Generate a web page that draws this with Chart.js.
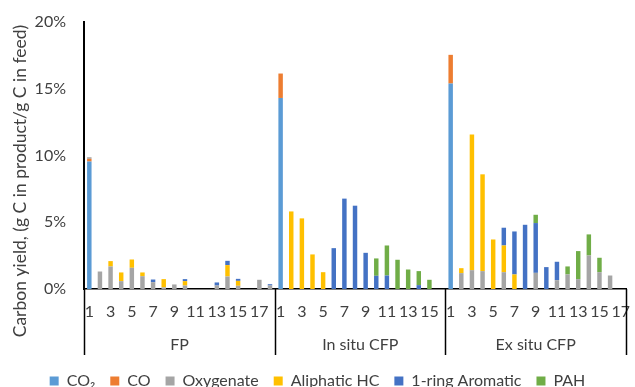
<!DOCTYPE html>
<html>
<head>
<meta charset="utf-8">
<script src="https://cdn.jsdelivr.net/npm/chart.js@4.4.1/dist/chart.umd.min.js"></script>
<style>
	html, body { margin: 0; padding: 0; background: #fff; }
	#wrapper { width: 635px; height: 387px; position: relative; }
</style>
</head>
<body>
<div id="wrapper"><canvas id="chart"></canvas></div>
<script>
"use strict";

// categories (run numbers) for each process group
const groups = ["FP", "In situ CFP", "Ex situ CFP"];
const fpRuns = ["1","2","3","4","5","6","7","8","9","10","11","12","13","14","15","16","17","18"];
const inSituRuns = ["1","2","3","4","5","6","7","8","9","10","11","12","13","14","15","16"];
const exSituRuns = ["1","2","3","4","5","6","7","8","9","10","11","12","13","14","15","16","17"];

const yTicks = [0, 5, 10, 15, 20];

// carbon yield, % (FP | In situ CFP | Ex situ CFP)
const co2 = [
	9.55,0,0,0,0,0,0,0,0,0,0,0,0,0,0,0,0,0,
	14.31,0,0,0,0,0,0,0,0,0,0,0,0,0,0,0,
	15.39,0,0,0,0,0,0,0,0,0,0,0,0,0,0,0,0
];
const co = [
	0.2,0,0,0,0,0,0,0,0,0,0,0,0,0,0,0,0,0,
	1.83,0,0,0,0,0,0,0,0,0,0,0,0,0,0,0,
	2.15,0,0,0,0,0,0,0,0,0,0,0,0,0,0,0,0
];
const oxygenate = [
	0.12,1.31,1.69,0.59,1.59,0.96,0.51,0.12,0.34,0.26,0,0,0.26,0.94,0.24,0,0.69,0.26,
	0,0,0,0,0,0,0,0,0,0,0,0,0,0,0,0,
	0,1.19,1.41,1.34,0,1.26,0,0,1.21,0,0.66,1.09,0.74,2.51,1.26,1.01,0
];
const aliphatic = [
	0,0,0.4,0.65,0.62,0.28,0,0.62,0,0.33,0,0,0,0.85,0.37,0,0,0,
	0,5.81,5.29,2.59,1.26,0,0,0,0,0,0,0,0,0,0,0,
	0,0.37,10.16,7.25,3.71,2.0,1.09,0,0,0,0,0,0,0,0,0,0
];
const aromatic = [
	0,0,0,0,0,0,0.2,0,0,0.15,0,0,0.23,0.32,0.15,0,0,0.1,
	0,0,0,0,0,3.06,6.77,6.24,2.71,0.99,1.01,0,0,0.29,0,0,
	0,0,0,0,0,1.33,3.22,4.81,3.73,1.64,1.38,0,0,0,0,0,0
];
const pah = [
	0,0,0,0,0,0,0,0,0,0,0,0,0,0,0,0,0,0,
	0,0,0,0,0,0,0,0,0,1.3,2.25,2.19,1.46,1.05,0.69,0,
	0,0,0,0,0,0,0,0,0.62,0,0,0.6,2.1,1.58,1.08,0,0
];

const labels = fpRuns.concat(inSituRuns, exSituRuns);
const groupSizes = [fpRuns.length, inSituRuns.length, exSituRuns.length];
const font = "Lato, 'Open Sans', sans-serif";
const textColor = "#404040";

// draws the group row under the run numbers and the y title
const groupAxis = {
	id: "groupAxis",
	afterDraw(chart) {
		const ctx = chart.ctx;
		const xs = chart.scales.x;
		const area = chart.chartArea;
		const w = (xs.right - xs.left) / labels.length;
		const y0 = area.bottom;
		const y1 = area.bottom + 66;
		ctx.save();
		ctx.strokeStyle = "#000";
		ctx.lineWidth = 1.5;
		let n = 0;
		let edges = [xs.left];
		for (const s of groupSizes) { n += s; edges.push(xs.left + n * w); }
		for (const e of edges) {
			if (e > chart.width - 1) continue;
			ctx.beginPath();
			ctx.moveTo(Math.round(e) + 0.5, y0);
			ctx.lineTo(Math.round(e) + 0.5, y1);
			ctx.stroke();
		}
		ctx.fillStyle = textColor;
		ctx.font = "16px " + font;
		ctx.textAlign = "center";
		ctx.textBaseline = "middle";
		for (let i = 0; i < groups.length; i++) {
			ctx.fillText(groups[i], (edges[i] + edges[i + 1]) / 2, y0 + 56);
		}
		// y axis title
		ctx.translate(20, 181);
		ctx.rotate(-Math.PI / 2);
		ctx.font = "17.5px " + font;
		ctx.fillText("Carbon yield, (g C in product/g C in feed)", 0, 0);
		ctx.restore();
	}
};

const mk = (label, data, color) => ({ label: label, data: data, backgroundColor: color, borderWidth: 0 });

new Chart(document.getElementById("chart"), {
	type: "bar",
	data: {
		labels: labels,
		datasets: [
			mk("CO\u2082", co2, "#5B9BD5"),
			mk("CO", co, "#ED7D31"),
			mk("Oxygenate", oxygenate, "#A5A5A5"),
			mk("Aliphatic HC", aliphatic, "#FFC000"),
			mk("1-ring Aromatic", aromatic, "#4472C4"),
			mk("PAH", pah, "#70AD47")
		]
	},
	options: {
		responsive: true,
		maintainAspectRatio: false,
		animation: false,
		categoryPercentage: 0.42,
		barPercentage: 1,
		layout: { padding: { top: 22, right: 0, left: 0, bottom: 0 } },
		plugins: {
			tooltip: { enabled: false },
			legend: {
				position: "bottom",
				maxHeight: 29,
				labels: {
					boxWidth: 9, boxHeight: 9, padding: 15,
					color: textColor,
					font: { family: font, size: 16 }
				}
			}
		},
		scales: {
			x: {
				stacked: true,
				grid: { display: false },
				border: { color: "#000", width: 1.5 },
				ticks: {
					autoSkip: false, maxRotation: 0, padding: 5,
					color: textColor,
					font: { family: font, size: 16 },
					callback: function (v) { const t = labels[v]; return (+t) % 2 === 1 ? t : ""; }
				},
				afterFit: function (s) { s.height = 69; }
			},
			y: {
				stacked: true,
				min: 0, max: 20,
				grid: { display: false },
				border: { color: "#000", width: 2 },
				afterBuildTicks: function (s) { s.ticks = yTicks.map(v => ({ value: v })); },
				ticks: {
					padding: 10,
					color: textColor,
					font: { family: font, size: 16 },
					callback: v => v + "%"
				},
				afterFit: function (s) { s.width = 84; }
			}
		}
	},
	plugins: [groupAxis]
});
</script>
</body>
</html>
